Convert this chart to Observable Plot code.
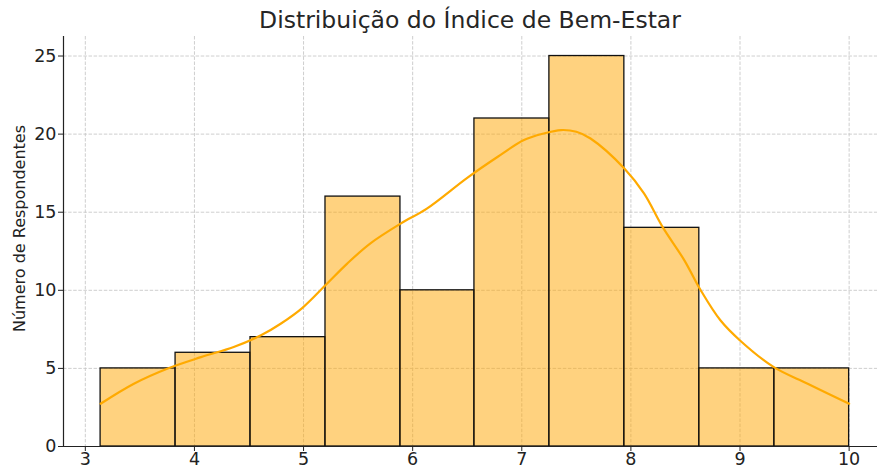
<!DOCTYPE html>
<html>
<head>
<meta charset="utf-8">
<script src="https://cdn.jsdelivr.net/npm/d3@7"></script>
<script src="https://cdn.jsdelivr.net/npm/@observablehq/plot@0.6"></script>
<style>
  html, body { margin: 0; padding: 0; background: #fff; }
  #wrap { position: relative; width: 877px; height: 467px; font-family: "DejaVu Sans", sans-serif; }
  #title { position: absolute; left: 63px; width: 814px; top: 0; height: 36px; text-align: center;
           font-size: 23.5px; line-height: 23.5px; padding-top: 8.5px; box-sizing: border-box; color: #262626; white-space: nowrap; }
  #chart { position: absolute; left: 0; top: 36px; }
  #chart svg text { font-size: 16px; }
  #chart svg g[aria-label="x-axis tick label"] text,
  #chart svg g[aria-label="y-axis tick label"] text { font-size: 17.5px; }
</style>
</head>
<body>
<div id="wrap">
  <div id="title">Distribuição do Índice de Bem-Estar</div>
  <div id="chart"></div>
</div>
<script>
// Histogram bin edges (Índice de Bem-Estar) and counts
const binEdges = [3.14, 3.827, 4.514, 5.201, 5.888, 6.566, 7.253, 7.94, 8.627, 9.315, 10.0];
const counts = [5, 6, 7, 16, 10, 21, 25, 14, 5, 5];

// KDE curve (scaled to counts)
const kdeX = [3.14, 3.445, 3.75, 4.06, 4.36, 4.61, 4.79, 4.99, 5.2, 5.4, 5.61, 5.89, 6.13, 6.5, 6.78, 7.02, 7.2, 7.36, 7.5, 7.63, 7.94, 8.12, 8.29, 8.49, 8.64, 8.82, 9.0, 9.31, 9.62, 10.0];
const kdeY = [2.74, 4.02, 4.98, 5.72, 6.37, 7.12, 7.86, 8.88, 10.32, 11.71, 12.99, 14.27, 15.23, 17.2, 18.55, 19.62, 20.04, 20.26, 20.15, 19.72, 17.8, 16.2, 14.06, 11.92, 10.0, 8.08, 6.79, 5.08, 4.02, 2.74];

const xTicks = [3, 4, 5, 6, 7, 8, 9, 10];
const yTicks = [0, 5, 10, 15, 20, 25];

const bins = counts.map((c, i) => ({x1: binEdges[i], x2: binEdges[i + 1], y: c}));
const kde = kdeX.map((x, i) => ({x, y: kdeY[i]}));

const chart = Plot.plot({
  width: 877,
  height: 431,
  marginTop: 0,
  marginLeft: 63,
  marginRight: 0,
  marginBottom: 21,
  style: {fontFamily: "DejaVu Sans, sans-serif", fontSize: "16px", color: "#222", background: "#fff", overflow: "visible"},
  x: {domain: [2.80, 10.26], ticks: xTicks, label: null},
  y: {domain: [0, 26.25], ticks: yTicks, label: null},
  marks: [
    Plot.gridX(xTicks, {stroke: "#c8c8c8", strokeOpacity: 1, strokeDasharray: "3.5,1.6", strokeWidth: 0.9}),
    Plot.gridY(yTicks, {stroke: "#c8c8c8", strokeOpacity: 1, strokeDasharray: "3.5,1.6", strokeWidth: 0.9}),
    Plot.rectY(bins, {x1: "x1", x2: "x2", y: "y", fill: "orange", fillOpacity: 0.5, stroke: "#111", strokeWidth: 1.3}),
    Plot.line(kde, {x: "x", y: "y", stroke: "#ffaa00", strokeWidth: 2.2, curve: "catmull-rom"}),
    Plot.axisX(xTicks, {tickSize: 5, tickPadding: 1.5, stroke: "#222", fill: "#222"}),
    Plot.axisY(yTicks, {tickSize: 5, tickPadding: 2, stroke: "#222", fill: "#222", label: null}),
    Plot.ruleX([2.80], {stroke: "#222", strokeWidth: 1.2}),
    Plot.ruleY([0], {stroke: "#222", strokeWidth: 1.2}),
    Plot.text(["Número de Respondentes"], {frameAnchor: "left", textAnchor: "middle", dx: -44, dy: -13, rotate: -90, fill: "#222"})
  ]
});
document.getElementById("chart").appendChild(chart);
</script>
</body>
</html>
